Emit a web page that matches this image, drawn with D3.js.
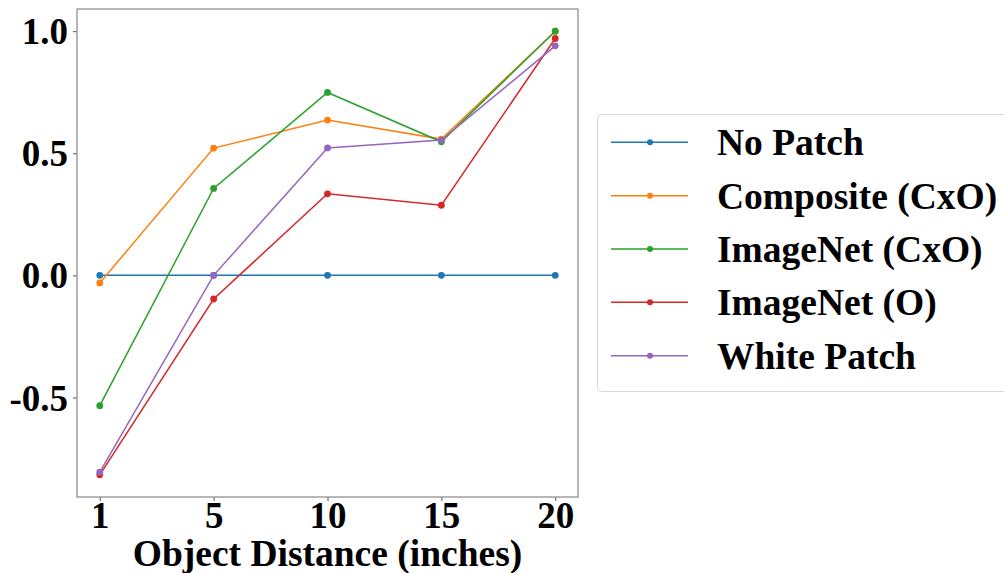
<!DOCTYPE html>
<html>
<head>
<meta charset="utf-8">
<script src="https://cdn.jsdelivr.net/npm/d3@7"></script>
<style>
  html, body { margin: 0; padding: 0; background: #fff; }
  text { font-family: "Liberation Serif", "Times New Roman", serif; font-weight: bold; fill: #000; }
</style>
</head>
<body>
<svg id="chart" width="1004" height="573"></svg>
<script>
"use strict";

// Object distances along the x axis (plotted as evenly spaced categories)
var distances = [1, 5, 10, 15, 20];

// Series labels, colours and values
var seriesNames = ["No Patch", "Composite (CxO)", "ImageNet (CxO)", "ImageNet (O)", "White Patch"];
var seriesColors = ["#1f77b4", "#ff7f0e", "#2ca02c", "#d62728", "#9467bd"];
var noPatch = [0, 0, 0, 0, 0];
var compositeCxO = [-0.031, 0.521, 0.636, 0.558, 1.0];
var imagenetCxO = [-0.534, 0.356, 0.749, 0.547, 1.0];
var imagenetO = [-0.817, -0.097, 0.334, 0.287, 0.970];
var whitePatch = [-0.806, 0.0, 0.522, 0.554, 0.940];

var yTicks = [-0.5, 0.0, 0.5, 1.0];

var seriesValues = [noPatch, compositeCxO, imagenetCxO, imagenetO, whitePatch];

var svg = d3.select("#chart");

// Plot area
var plot = { left: 77, top: 9, right: 578, bottom: 497 };

// matplotlib-style 5% margins around data; x uses the index of each distance
var nX = distances.length - 1;
var x = d3.scaleLinear()
    .domain([-nX * 0.05, nX * 1.05])
    .range([plot.left, plot.right]);

var allVals = d3.merge(seriesValues);
var yMin = d3.min(allVals), yMax = d3.max(allVals);
var yPad = (yMax - yMin) * 0.05;
var y = d3.scaleLinear()
    .domain([yMin - yPad, yMax + yPad])
    .range([plot.bottom, plot.top]);

// Axes
var xAxis = svg.append("g")
    .attr("transform", "translate(0," + plot.bottom + ")")
    .call(d3.axisBottom(x).tickValues(d3.range(distances.length)).tickSize(4).tickPadding(2)
        .tickFormat(function(i){ return distances[i]; }));
var yAxis = svg.append("g")
    .attr("transform", "translate(" + plot.left + ",0)")
    .call(d3.axisLeft(y).tickValues(yTicks).tickSize(4).tickPadding(5)
        .tickFormat(function(d){ return d3.format(".1f")(d).replace("\u2212", "-"); }));

[xAxis, yAxis].forEach(function(a){
    a.select(".domain").remove();
    a.selectAll(".tick line").attr("stroke", "#555");
    a.selectAll(".tick text").style("font-size", "37px").attr("fill", "#000");
});
yAxis.selectAll(".tick text").attr("dy", "0.34em");
xAxis.selectAll(".tick text").attr("dy", "0.68em");

// Frame
svg.append("rect")
    .attr("x", plot.left).attr("y", plot.top)
    .attr("width", plot.right - plot.left).attr("height", plot.bottom - plot.top)
    .attr("fill", "none").attr("stroke", "#888").attr("stroke-width", 1.2);

// Axis title
svg.append("text")
    .attr("x", (plot.left + plot.right) / 2)
    .attr("y", 566)
    .attr("text-anchor", "middle")
    .style("font-size", "37.5px")
    .text("Object Distance (inches)");

// Lines and markers
var line = d3.line()
    .x(function(d, i){ return x(i); })
    .y(function(d){ return y(d); });

seriesValues.forEach(function(vals, s){
    var g = svg.append("g");
    g.append("path")
        .datum(vals)
        .attr("d", line)
        .attr("fill", "none")
        .attr("stroke", seriesColors[s])
        .attr("stroke-width", 1.5);
    g.selectAll("circle")
        .data(vals)
        .enter().append("circle")
        .attr("cx", function(d, i){ return x(i); })
        .attr("cy", function(d){ return y(d); })
        .attr("r", 3.4)
        .attr("fill", seriesColors[s]);
});

// Legend
var legend = svg.append("g");
legend.append("rect")
    .attr("x", 597.5).attr("y", 114.5)
    .attr("width", 440).attr("height", 277)
    .attr("rx", 4)
    .attr("fill", "#fff").attr("stroke", "#d8d8d8").attr("stroke-width", 1);

var legendRow = d3.scaleLinear().domain([0, seriesNames.length - 1]).range([142.3, 355.7]);

seriesNames.forEach(function(name, s){
    var ly = legendRow(s);
    legend.append("line")
        .attr("x1", 611).attr("x2", 688)
        .attr("y1", ly).attr("y2", ly)
        .attr("stroke", seriesColors[s]).attr("stroke-width", 1.5);
    legend.append("circle")
        .attr("cx", 650).attr("cy", ly).attr("r", 3)
        .attr("fill", seriesColors[s]);
    legend.append("text")
        .attr("x", 717)
        .attr("y", ly)
        .attr("dy", "0.35em")
        .style("font-size", "37.5px")
        .text(name);
});
</script>
</body>
</html>
